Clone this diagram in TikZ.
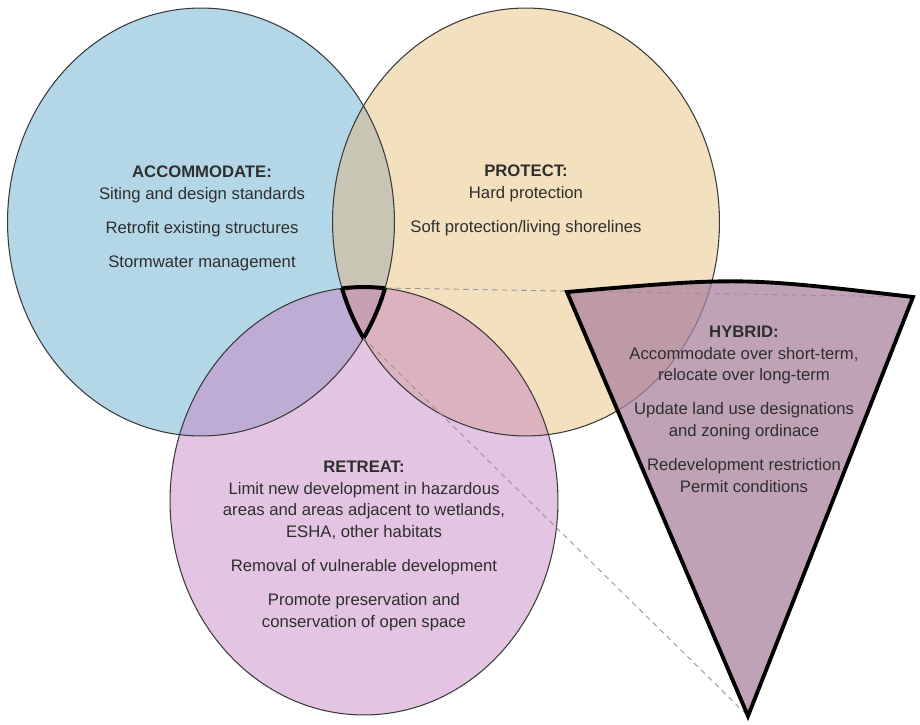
\documentclass[tikz,border=0pt]{standalone}
\usepackage{fontspec}
\setmainfont{Liberation Sans}
\definecolor{cblue}{HTML}{B4D7E8}
\definecolor{ctan}{HTML}{F3E0BE}
\definecolor{cpink}{HTML}{E3C4E2}
\definecolor{cAP}{HTML}{C8C5B4}
\definecolor{cAR}{HTML}{BEACD4}
\definecolor{cPR}{HTML}{DCB2BE}
\definecolor{cAPR}{HTML}{C8A0B4}
\definecolor{cwedge}{RGB}{171,131,158}
\definecolor{rimgray}{HTML}{3A3A3A}
\definecolor{textgray}{HTML}{2E2E2E}
\begin{document}
\begin{tikzpicture}[x=0.02cm,y=-0.02cm,
  pA/.style={insert path={(201,222) ellipse [x radius=3.87cm, y radius=4.28cm]}},
  pP/.style={insert path={(526,222) ellipse [x radius=3.87cm, y radius=4.28cm]}},
  pR/.style={insert path={(364,501) ellipse [x radius=3.88cm, y radius=4.28cm]}},
  rim/.style={draw=rimgray, line width=0.6pt},
  boldrim/.style={draw=black, line width=2.3pt},
  guide/.style={draw=gray!85, dash pattern=on 3pt off 2.5pt, line width=0.5pt},
  wedge/.style={fill=cwedge, fill opacity=0.75, draw=black, line width=2.2pt, line join=miter},
  label/.style={align=center, anchor=base, inner sep=0pt, text=textgray,
    font=\fontsize{9.5pt}{12.5pt}\selectfont}
]
\useasboundingbox (0,0) rectangle (920,724);

% base fills
\fill[cblue,pA];
\fill[ctan,pP];
\fill[cpink,pR];
% overlaps
\begin{scope}
  \clip[pP];
  \fill[cPR,pR];
\end{scope}
\begin{scope}
  \clip[pA];
  \fill[cAP,pP];
  \fill[cAR,pR];
  \clip[pP];
  \fill[cAPR,pR];
\end{scope}
% outlines
\draw[rim,pA];
\draw[rim,pP];
\draw[rim,pR];
% triple intersection outline
\begin{scope}
  \clip[pA]; \clip[pP];
  \draw[boldrim,pR];
\end{scope}
\begin{scope}
  \clip[pA]; \clip[pR];
  \draw[boldrim,pP];
\end{scope}
\begin{scope}
  \clip[pP]; \clip[pR];
  \draw[boldrim,pA];
\end{scope}

% corners
\coordinate (sTL) at (341,288);
\coordinate (sTR) at (386,288);
\coordinate (sB) at (363.5,338);
\coordinate (hTL) at (567,292);
\coordinate (hTR) at (913,297);
\coordinate (hB) at (748,716);

% dashed guides
\draw[guide] (sTR) -- (hTR);
\draw[guide] (sB) -- (hB);

% hybrid wedge
\filldraw[wedge] (hTL) .. controls (740,277) .. (hTR) -- (hB) -- cycle;

% texts (anchored at the baseline of the last line)
\node[label] (accommodate) at (202,267) {\textbf{ACCOMMODATE:}\\
  Siting and design standards\\[6.6pt]
  Retrofit existing structures\\[6.6pt]
  Stormwater management};
\node[label] (protect) at (526,232) {\textbf{PROTECT:}\\
  Hard protection\\[6.6pt]
  Soft protection/living shorelines};
\node[label] (retreat) at (364,627) {\textbf{RETREAT:}\\
  Limit new development in hazardous\\
  areas and areas adjacent to wetlands,\\
  ESHA, other habitats\\[6.6pt]
  Removal of vulnerable development\\[6.6pt]
  Promote preservation and\\
  conservation of open space};
\node[label] (hybrid) at (744,492) {\textbf{HYBRID:}\\
  Accommodate over short-term,\\
  relocate over long-term\\[6.6pt]
  Update land use designations\\
  and zoning ordinace\\[6.6pt]
  Redevelopment restriction\\
  Permit conditions};
\end{tikzpicture}
\end{document}
